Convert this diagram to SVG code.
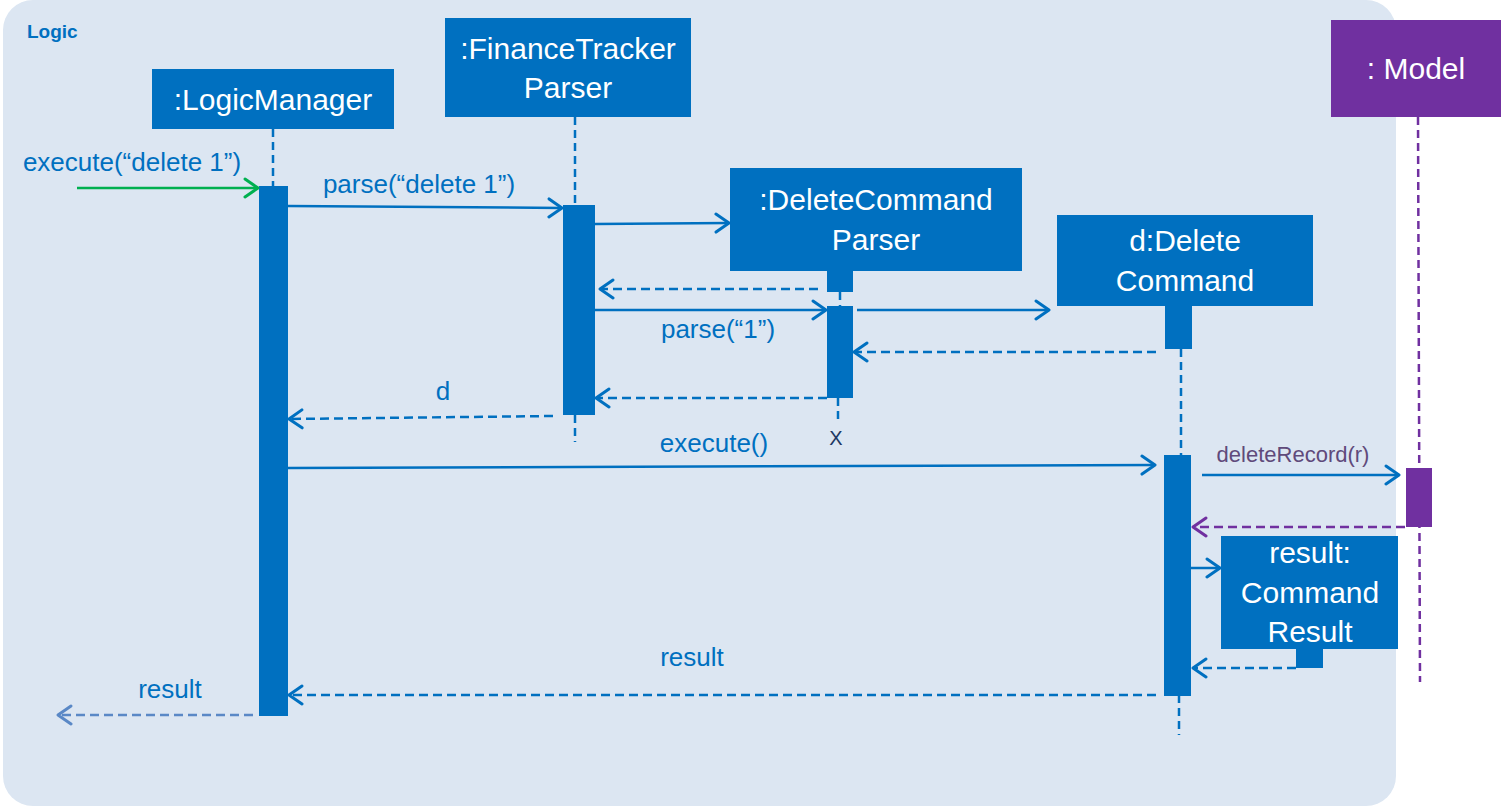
<svg xmlns="http://www.w3.org/2000/svg" width="1501" height="806" viewBox="0 0 1501 806">
<style>
.bg{fill:#dce6f2}
.box{fill:#0070c0}
.mbox{fill:#7030a0}
.bt{font-family:"Liberation Sans",Arial,sans-serif;font-size:30px;fill:#ffffff;text-anchor:middle}
.lbl{font-family:"Liberation Sans",Arial,sans-serif;font-size:26px;fill:#0070c0;text-anchor:middle}
.life{stroke:#0070c0;stroke-width:2.5;stroke-dasharray:8 5;fill:none}
.plife{stroke:#7030a0;stroke-width:2.5;stroke-dasharray:8 5;fill:none}
.msg{stroke:#0070c0;stroke-width:2.5;fill:none;marker-end:url(#ab)}
.ret{stroke:#0070c0;stroke-width:2.5;stroke-dasharray:9 5;fill:none;marker-end:url(#ab)}
</style>
<defs>
<marker id="ab" markerUnits="userSpaceOnUse" markerWidth="18" markerHeight="22" viewBox="0 0 18 22" refX="16" refY="11" orient="auto"><path d="M3,2 L16,11 L3,20" fill="none" stroke="#0070c0" stroke-width="3" stroke-linecap="round" stroke-linejoin="round"/></marker>
<marker id="ag" markerUnits="userSpaceOnUse" markerWidth="18" markerHeight="22" viewBox="0 0 18 22" refX="16" refY="11" orient="auto"><path d="M3,2 L16,11 L3,20" fill="none" stroke="#00b050" stroke-width="3" stroke-linecap="round" stroke-linejoin="round"/></marker>
<marker id="ap" markerUnits="userSpaceOnUse" markerWidth="18" markerHeight="22" viewBox="0 0 18 22" refX="16" refY="11" orient="auto"><path d="M3,2 L16,11 L3,20" fill="none" stroke="#7030a0" stroke-width="3" stroke-linecap="round" stroke-linejoin="round"/></marker>
<marker id="al" markerUnits="userSpaceOnUse" markerWidth="18" markerHeight="22" viewBox="0 0 18 22" refX="16" refY="11" orient="auto"><path d="M3,2 L16,11 L3,20" fill="none" stroke="#5a88c6" stroke-width="3" stroke-linecap="round" stroke-linejoin="round"/></marker>
</defs>

<g id="logic-frame">
<rect class="bg" x="3" y="0" width="1393" height="806" rx="30" ry="30"/>
<text x="27" y="38" font-family="Liberation Sans,Arial,sans-serif" font-size="19" font-weight="bold" fill="#0070c0">Logic</text>
</g>

<g id="lifelines">
<line class="life" x1="273" y1="129" x2="273" y2="186"/>
<line class="life" x1="575" y1="117" x2="575" y2="205"/>
<line class="life" x1="575" y1="415" x2="575" y2="442"/>
<line class="life" x1="840" y1="292" x2="840" y2="306"/>
<line class="life" x1="838" y1="398" x2="838" y2="422"/>
<line class="life" x1="1181" y1="349" x2="1181" y2="456"/>
<line class="life" x1="1179" y1="695" x2="1179" y2="735"/>
<line class="plife" x1="1418" y1="117" x2="1420" y2="682"/>
</g>

<g id="logicmanager">
<rect class="box" x="152" y="69" width="242" height="60"/>
<text class="bt" x="273" y="110">:LogicManager</text>
<rect class="box" x="259" y="186" width="29" height="530"/>
</g>

<g id="financetrackerparser">
<rect class="box" x="445" y="18" width="246" height="99"/>
<text class="bt" x="568" y="59">:FinanceTracker</text>
<text class="bt" x="568" y="98">Parser</text>
<rect class="box" x="563" y="205" width="32" height="210"/>
</g>

<g id="deletecommandparser">
<rect class="box" x="730" y="168" width="292" height="103"/>
<text class="bt" x="876" y="210">:DeleteCommand</text>
<text class="bt" x="876" y="250">Parser</text>
<rect class="box" x="827" y="270" width="26" height="22"/>
<rect class="box" x="827" y="306" width="26" height="92"/>
<text x="836" y="445" font-family="Liberation Sans,Arial,sans-serif" font-size="20" fill="#203864" text-anchor="middle">X</text>
</g>

<g id="deletecommand">
<rect class="box" x="1057" y="215" width="256" height="91"/>
<text class="bt" x="1185" y="251">d:Delete</text>
<text class="bt" x="1185" y="291">Command</text>
<rect class="box" x="1165" y="305" width="27" height="44"/>
<rect class="box" x="1164" y="455" width="27" height="241"/>
</g>

<g id="model">
<rect class="mbox" x="1331" y="20" width="170" height="97"/>
<text class="bt" x="1416" y="79">: Model</text>
<rect class="mbox" x="1406" y="468" width="26" height="59"/>
</g>

<g id="commandresult">
<rect class="box" x="1221" y="536" width="177" height="113"/>
<text class="bt" x="1310" y="563">result:</text>
<text class="bt" x="1310" y="603">Command</text>
<text class="bt" x="1310" y="642">Result</text>
<rect class="box" x="1296" y="648" width="27" height="20"/>
</g>

<g id="connectors">
<line x1="77" y1="188" x2="258" y2="188" stroke="#00b050" stroke-width="2.5" marker-end="url(#ag)"/>
<text class="lbl" x="132" y="171" font-size="27">execute(“delete 1”)</text>
<line class="msg" x1="288" y1="206" x2="562" y2="208"/>
<text class="lbl" x="419" y="193">parse(“delete 1”)</text>
<line class="msg" x1="595" y1="224" x2="729" y2="223"/>
<line class="ret" x1="818" y1="289" x2="600" y2="289"/>
<line class="msg" x1="595" y1="310" x2="826" y2="310"/>
<text class="lbl" x="718" y="338">parse(“1”)</text>
<line class="msg" x1="857" y1="310" x2="1049" y2="310"/>
<line class="ret" x1="1156" y1="352" x2="854" y2="352"/>
<line class="ret" x1="827" y1="398" x2="596" y2="398"/>
<text class="lbl" x="443" y="400">d</text>
<line class="ret" x1="553" y1="416" x2="289" y2="419"/>
<line class="msg" x1="288" y1="468" x2="1155" y2="465"/>
<text class="lbl" x="714" y="452">execute()</text>
<text x="1293" y="462" font-family="Liberation Sans,Arial,sans-serif" font-size="22" fill="#604a7b" text-anchor="middle">deleteRecord(r)</text>
<line class="msg" x1="1202" y1="475" x2="1399" y2="475"/>
<line x1="1405" y1="527" x2="1193" y2="527" stroke="#7030a0" stroke-width="2.5" stroke-dasharray="9 5" marker-end="url(#ap)"/>
<line class="msg" x1="1191" y1="568" x2="1220" y2="568"/>
<line class="ret" x1="1296" y1="668" x2="1193" y2="668"/>
<text class="lbl" x="692" y="666">result</text>
<line class="ret" x1="1156" y1="695" x2="289" y2="695"/>
<text class="lbl" x="170" y="698">result</text>
<line x1="253" y1="715" x2="58" y2="715" stroke="#5a88c6" stroke-width="2.5" stroke-dasharray="9 5" marker-end="url(#al)"/>
</g>
</svg>
